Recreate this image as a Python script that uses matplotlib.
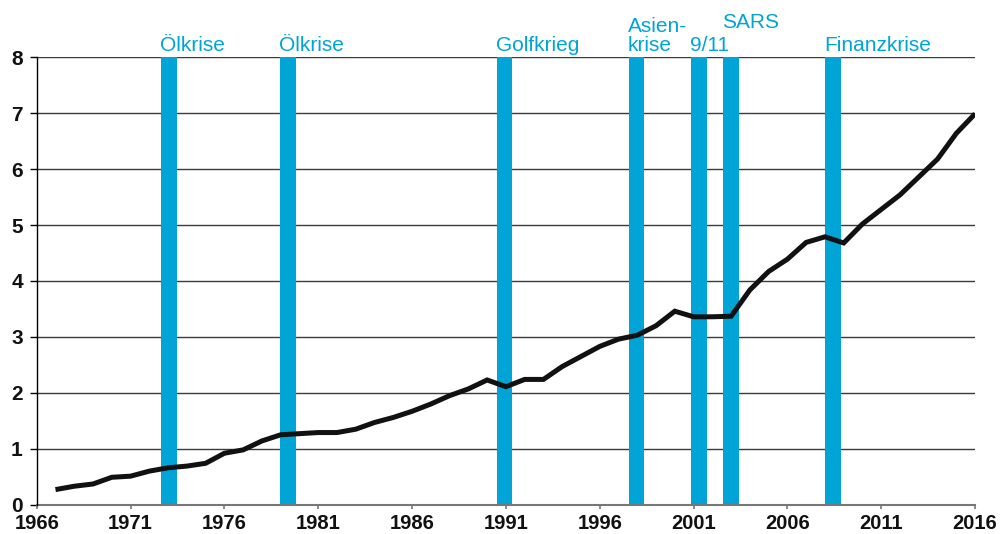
import matplotlib
matplotlib.use("Agg")
import matplotlib.pyplot as plt
import matplotlib.transforms as mtransforms

plt.rcParams['font.family'] = ['Liberation Sans', 'DejaVu Sans']

years = list(range(1967, 2017))
values = [0.27, 0.33, 0.37, 0.49, 0.51, 0.60, 0.66, 0.69, 0.74, 0.92,
          0.98, 1.14, 1.25, 1.27, 1.29, 1.29, 1.35, 1.47, 1.56, 1.67,
          1.80, 1.95, 2.07, 2.23, 2.11, 2.24, 2.24, 2.47, 2.65, 2.83,
          2.96, 3.03, 3.20, 3.46, 3.36, 3.36, 3.37, 3.84, 4.17, 4.39,
          4.69, 4.79, 4.68, 5.02, 5.28, 5.54, 5.86, 6.18, 6.64, 6.99]

# crisis periods: (start, end) in fractional years, label lines
crisis_spans = [(1972.62, 1973.46), (1978.96, 1979.80), (1990.51, 1991.31),
                (1997.55, 1998.34), (2000.86, 2001.70), (2002.56, 2003.40),
                (2008.00, 2008.84)]
crisis_labels = ["Ölkrise", "Ölkrise", "Golfkrieg", "Asien-\nkrise", "9/11",
                 "SARS", "Finanzkrise"]
label_raised = [False, False, False, False, False, True, False]

xticks = list(range(1966, 2017, 5))
yticks = list(range(0, 9))

blue = '#00a4d6'

fig = plt.figure(figsize=(10.01, 5.34), dpi=100)
ax = fig.add_axes([0.0367, 0.0549, 0.9374, 0.8378])

ax.set_xlim(1966, 2016)
ax.set_ylim(0, 8)

for y in yticks[1:]:
    ax.axhline(y, color='#3a3a3a', lw=1.0, zorder=1)

trans = mtransforms.blended_transform_factory(ax.transData, ax.transAxes)
for (x0, x1), lab, raised in zip(crisis_spans, crisis_labels, label_raised):
    ax.axvspan(x0, x1, ymin=0, ymax=1, color=blue, lw=0, zorder=2)
    ypos = 1.066 if raised else 1.014
    ax.text(x0 - 0.05, ypos, lab, transform=trans, color=blue, fontsize=15,
            ha='left', va='baseline', linespacing=1.0, clip_on=False)

ax.plot(years, values, color='#111111', lw=3.6, solid_joinstyle='miter',
        solid_capstyle='butt', zorder=3)

for s in ['top', 'right']:
    ax.spines[s].set_visible(False)
ax.spines['left'].set_color('black')
ax.spines['left'].set_linewidth(1.0)
ax.spines['bottom'].set_color('#777777')
ax.spines['bottom'].set_linewidth(1.5)
ax.spines['left'].set_zorder(4)

ax.set_xticks(xticks)
ax.set_xticklabels([str(t) for t in xticks])
ax.set_yticks(yticks)
ax.set_yticklabels([str(t) for t in yticks])
ax.tick_params(axis='x', direction='out', length=3, width=1.2, color='#777777',
               pad=4, labelsize=14.5)
ax.tick_params(axis='y', direction='out', length=5, width=1.0, color='black',
               pad=5, labelsize=15)
for lbl in ax.get_xticklabels() + ax.get_yticklabels():
    lbl.set_fontweight('bold')
    lbl.set_color('#111111')

fig.savefig('out.png', dpi=100)
